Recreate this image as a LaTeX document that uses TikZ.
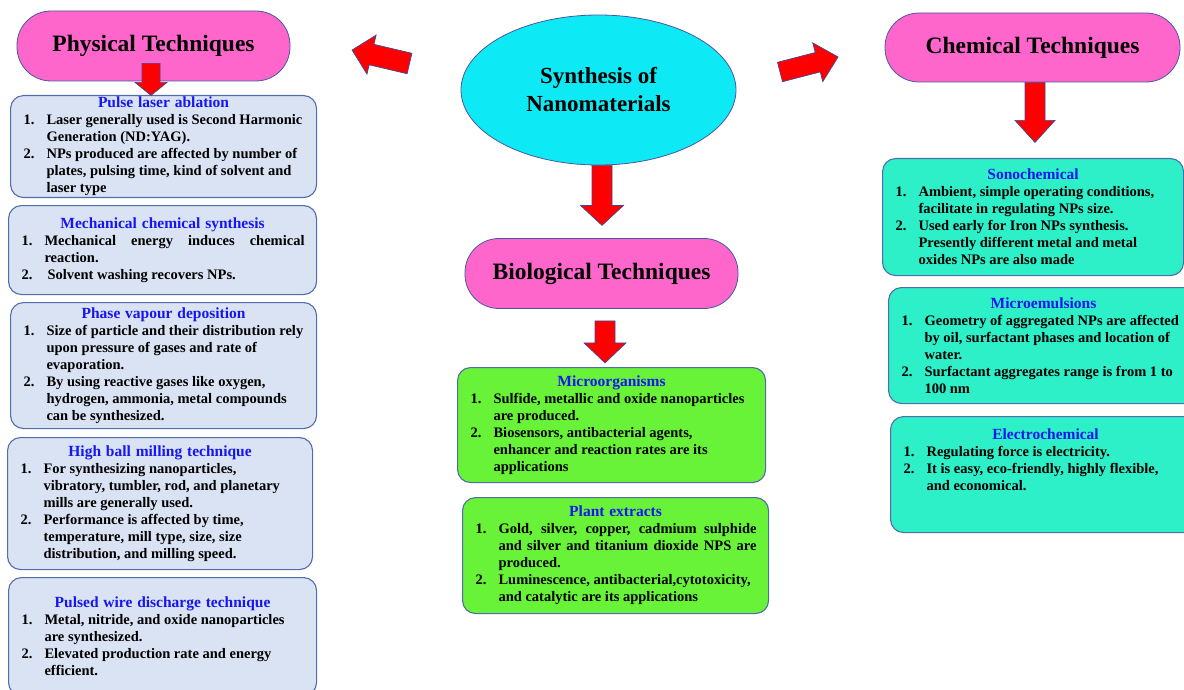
\documentclass[tikz,border=0pt]{standalone}
\usepackage{fontspec}
\setmainfont{Liberation Serif}
\usepackage{xcolor}
\usepackage{tikz}
\usetikzlibrary{shapes.geometric}

\definecolor{pillpink}{RGB}{255,102,204}
\definecolor{pillline}{RGB}{72,88,160}
\definecolor{synthcyan}{RGB}{14,234,245}
\definecolor{physfill}{RGB}{218,227,243}
\definecolor{biofill}{RGB}{104,242,56}
\definecolor{chemfill}{RGB}{46,240,200}
\definecolor{boxline}{RGB}{80,108,170}
\definecolor{headblue}{RGB}{22,22,240}
\definecolor{arrowred}{RGB}{255,0,0}
\definecolor{arrowline}{RGB}{64,72,150}

\hfuzz=200pt
\hbadness=10000

\newcommand{\boxhead}[1]{{\centering\color{headblue}\fontsize{15.5}{17}\selectfont #1\par}}
\newcommand{\numitem}[2]{\par\leftskip=13pt\rightskip=12pt minus 80pt\relax
  \spaceskip=0pt\xspaceskip=0pt\hyphenpenalty=10000
  \hangindent=23pt\hangafter=1\noindent\makebox[23pt][l]{#1}#2\par}
% start, angle, length, shaft width, head width, head length
\newcommand{\redarrow}[6]{%
  \begin{scope}[shift={#1}, rotate=#2]
    \draw[bigarrow] (0,-#4/2) -- (#3-#6,-#4/2) -- (#3-#6,-#5/2) -- (#3,0)
      -- (#3-#6,#5/2) -- (#3-#6,#4/2) -- (0,#4/2) -- cycle;
  \end{scope}}

\begin{document}
\begin{tikzpicture}[
        x=1pt, y=-1pt,
        pill/.style={draw=pillline, fill=pillpink, line width=0.8pt, rounded corners=34pt,
            minimum width=273pt, minimum height=70pt, inner sep=0pt,
            font=\fontsize{23.5}{27}\selectfont\bfseries},
        infobox/.style={draw=boxline, line width=1.1pt, rounded corners=13pt, anchor=north west,
            inner xsep=0pt, inner ysep=0pt, font=\fontsize{14.5}{17}\selectfont\bfseries},
        physbox/.style={infobox, fill=physfill},
        biobox/.style={infobox, fill=biofill},
        chembox/.style={infobox, fill=chemfill},
        bigarrow/.style={draw=arrowline, fill=arrowred, line width=0.7pt, line join=miter}
    ]
    \useasboundingbox (0,0) rectangle (1184,690);
    \clip (0,0) rectangle (1184,690);

    % Central topic and the three headings
    \node[ellipse, draw=pillline, fill=synthcyan, line width=0.8pt, minimum width=275pt,
        minimum height=150pt, inner sep=0pt, align=center,
        font=\fontsize{23}{28}\selectfont\bfseries] (synth) at (598.5,90) {Synthesis of\\Nanomaterials};
    \node[pill] (phys) at (153.5,46) {Physical Techniques};
    \node[pill, minimum width=295pt, minimum height=69pt] (chem) at (1032.5,47.5) {Chemical Techniques};
    \node[pill] (bio) at (601.5,273.5) {Biological Techniques};

    % Physical techniques
    \node[physbox, text width=306pt, minimum height=102pt] (pla) at (10,95) {%
        \boxhead{Pulse laser ablation}
        \numitem{1.}{Laser generally used is Second Harmonic\newline Generation (ND:YAG).}
        \numitem{2.}{NPs produced are affected by number of\newline plates, pulsing time, kind of solvent and\newline laser type}};
    \node[physbox, text width=308pt, minimum height=89pt] (mcs) at (8,205) {%
        \boxhead{Mechanical chemical synthesis}
        \numitem{1.}{Mechanical energy induces chemical\linebreak reaction.}
        \numitem{2.}{\hspace{3pt}Solvent washing recovers NPs.}};
    \node[physbox, text width=306pt, minimum height=126pt] (pvd) at (10,302) {%
        \boxhead{Phase vapour deposition}
        \numitem{1.}{Size of particle and their distribution rely\newline upon pressure of gases and rate of\newline evaporation.}
        \numitem{2.}{By using reactive gases like oxygen,\newline hydrogen, ammonia, metal compounds\newline can be synthesized.}};
    \node[physbox, text width=305pt, minimum height=132pt] (hbm) at (7,437) {%
        \boxhead{High ball milling technique}
        \numitem{1.}{For synthesizing nanoparticles,\newline vibratory, tumbler, rod, and planetary\newline mills are generally used.}
        \numitem{2.}{Performance is affected by time,\newline temperature, mill type, size, size\newline distribution, and milling speed.}};
    \node[physbox, text width=308pt, minimum height=118pt] (pwd) at (8,577) {%
        \boxhead{Pulsed wire discharge technique}
        \numitem{1.}{Metal, nitride, and oxide nanoparticles\newline are synthesized.}
        \numitem{2.}{Elevated production rate and energy\newline efficient.}};

    % Biological techniques
    \node[biobox, text width=308pt, minimum height=115pt] (micro) at (457,367) {%
        \boxhead{Microorganisms}
        \numitem{1.}{Sulfide, metallic and oxide nanoparticles\newline are produced.}
        \numitem{2.}{Biosensors, antibacterial agents,\newline enhancer and reaction rates are its\newline applications}};
    \node[biobox, text width=306pt, minimum height=116pt] (plant) at (462,497) {%
        \boxhead{Plant extracts}
        \numitem{1.}{Gold, silver, copper, cadmium sulphide\linebreak and silver and titanium dioxide NPS are\linebreak produced.}
        \numitem{2.}{Luminescence, antibacterial,cytotoxicity,\newline and catalytic are its applications}};

    % Chemical techniques
    \node[chembox, text width=301pt, minimum height=117pt] (sono) at (882,158) {%
        \boxhead{Sonochemical}
        \numitem{1.}{Ambient, simple operating conditions,\newline facilitate in regulating NPs size.}
        \numitem{2.}{Used early for Iron NPs synthesis.\newline Presently different metal and metal\newline oxides NPs are also made}};
    \node[chembox, text width=310pt, minimum height=116pt] (emul) at (888,287) {%
        \boxhead{Microemulsions}
        \numitem{1.}{Geometry of aggregated NPs are affected\newline by oil, surfactant phases and location of\newline water.}
        \numitem{2.}{Surfactant aggregates range is from 1 to\newline 100 nm}};
    \node[chembox, text width=310pt, minimum height=116pt] (elec) at (890,416) {%
        \boxhead{Electrochemical}
        \numitem{1.}{Regulating force is electricity.}
        \numitem{2.}{It is easy, eco-friendly, highly flexible,\newline and economical.}
        \par\rule{0pt}{28pt}};

    % Block arrows
    \coordinate (toPhys) at (409.5,63.5);
    \coordinate (toChem) at (780,72);
    \redarrow{(toPhys)}{166.8}{59}{21}{40}{20}
    \redarrow{(toChem)}{14.5}{60}{20}{40}{21}
    \redarrow{([xshift=-2.5pt, yshift=18pt]phys.south)}{-90}{32}{18}{32}{13}
    \redarrow{([xshift=3.5pt]synth.south)}{-90}{60}{20}{43}{20}
    \redarrow{([xshift=3.5pt, yshift=-12pt]bio.south)}{-90}{42}{20}{42}{20}
    \redarrow{([xshift=2.5pt]chem.south)}{-90}{60}{20}{40}{22}

\end{tikzpicture}
\end{document}
